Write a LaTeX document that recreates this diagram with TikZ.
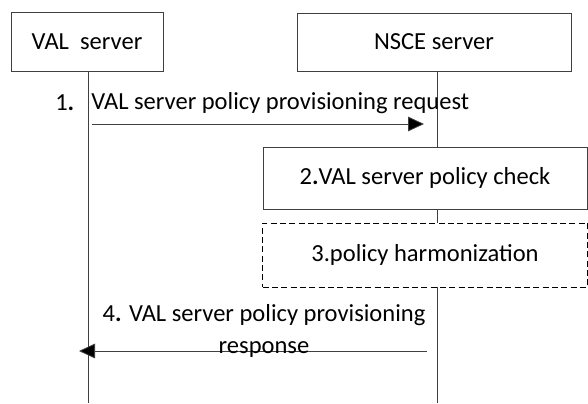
\documentclass[tikz,border=0pt]{standalone}
\usepackage{fontspec}
\setmainfont{Carlito}
\usepackage{tikz}
\usetikzlibrary{arrows.meta}

\begin{document}
\begin{tikzpicture}[x=0.75pt,y=0.75pt,yscale=-1,xscale=1,
  box/.style={draw=black!75,line width=0.6pt,inner sep=0pt,font=\fontsize{18.4}{24}\selectfont},
  txt/.style={inner sep=0.75pt,font=\fontsize{18.4}{24}\selectfont,align=center},
  life/.style={draw=black!75,line width=0.6pt},
  msg/.style={draw=black!75,line width=0.6pt,-{Triangle[length=12pt,width=11pt,fill=black]}}]
\useasboundingbox (0,0) rectangle (588,403);

%Shape: Rectangle [id:val]
\node [box,minimum width=114pt,minimum height=44.25pt] (val) at (87,41.5) {VAL\ \ server};
%Shape: Rectangle [id:nsce]
\node [box,minimum width=205.5pt,minimum height=43.5pt] (nsce) at (434,42) {NSCE server};
%Shape: Rectangle [id:check]
\node [box,minimum width=243pt,minimum height=46.5pt] (check) at (425,178) {2\textbf{.}VAL server policy check};
%Shape: Rectangle [id:harm]
\node [box,draw=black,dash pattern=on 4.5pt off 2.5pt,minimum width=243.75pt,minimum height=48pt] (harm) at (425,255) {3.policy harmonization};

% lifelines
\coordinate (valEnd) at (88,403);
\coordinate (nsceEnd) at (437,403);
\draw [life] (val.south -| valEnd) -- (valEnd);
\draw [life] (nsce.south -| nsceEnd) -- (check.north -| nsceEnd);
\draw [life] (check.south -| nsceEnd) -- (harm.north -| nsceEnd);
\draw [life] (harm.south -| nsceEnd) -- (nsceEnd);

% messages
\coordinate (reqStart) at (92,124);
\coordinate (reqEnd) at (424,124);
\coordinate (rspStart) at (427,351);
\coordinate (rspEnd) at (79,351);
\draw [msg] (reqStart) -- (reqEnd);
\draw [msg] (rspStart) -- (rspEnd);

% Text Node
\node [txt,anchor=west] (reqNum) at (54,103) {1\textbf{.}};
% Text Node
\node [txt,anchor=west] (reqLabel) at (90,103) {VAL server policy provisioning request};
% Text Node
\node [txt] (rspLabel) at (264,331) {4\textbf{.} VAL server policy provisioning\\response};

\end{tikzpicture}
\end{document}
